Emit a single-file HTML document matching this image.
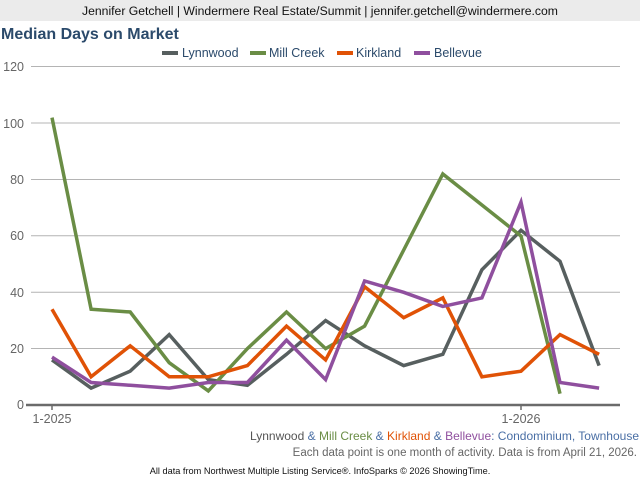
<!DOCTYPE html>
<html><head><meta charset="utf-8"><style>
body{margin:0;width:640px;height:480px;background:#fff;font-family:"Liberation Sans",sans-serif;overflow:hidden}
</style></head><body>
<svg width="640" height="480" xmlns="http://www.w3.org/2000/svg" font-family="Liberation Sans, sans-serif">
<rect x="0" y="0" width="640" height="21" fill="#ebebeb"/>
<text x="320" y="15" font-size="12.2" text-anchor="middle" fill="#111">Jennifer Getchell | Windermere Real Estate/Summit | jennifer.getchell@windermere.com</text>
<text x="1" y="39" font-size="16" font-weight="bold" fill="#2b4a6b">Median Days on Market</text>
<g font-size="12.5" fill="#2b4a6b">
<rect x="162" y="51" width="16" height="4" fill="#575f5f"/><text x="182" y="57">Lynnwood</text>
<rect x="250" y="51" width="16" height="4" fill="#6a8d45"/><text x="269" y="57">Mill Creek</text>
<rect x="337" y="51" width="16" height="4" fill="#e05206"/><text x="356" y="57">Kirkland</text>
<rect x="414" y="51" width="16" height="4" fill="#8f4f9e"/><text x="434" y="57">Bellevue</text>
</g>
<g stroke="#b4b4b4" stroke-width="1">
<line x1="31" x2="620" y1="66.5" y2="66.5"/><line x1="31" x2="620" y1="123" y2="123"/><line x1="31" x2="620" y1="179.5" y2="179.5"/><line x1="31" x2="620" y1="235.8" y2="235.8"/><line x1="31" x2="620" y1="292.2" y2="292.2"/><line x1="31" x2="620" y1="348.5" y2="348.5"/>
</g>
<g font-size="12.5" fill="#666" text-anchor="end">
<text x="24" y="71">120</text><text x="24" y="128">100</text><text x="24" y="184">80</text><text x="24" y="240">60</text><text x="24" y="297">40</text><text x="24" y="353">20</text><text x="24" y="409">0</text>
</g>
<line x1="26" x2="620" y1="405" y2="405" stroke="#6b6b6b" stroke-width="2.5"/>
<line x1="52" x2="52" y1="405" y2="410" stroke="#6b6b6b" stroke-width="1.5"/>
<line x1="521" x2="521" y1="405" y2="410" stroke="#6b6b6b" stroke-width="1.5"/>
<text x="52" y="423" font-size="12.5" fill="#666" text-anchor="middle">1-2025</text>
<text x="521" y="423" font-size="12.5" fill="#666" text-anchor="middle">1-2026</text>
<g fill="none" stroke-width="3.5" stroke-linejoin="miter">
<polyline id="lyn" stroke="#575f5f" points=""/>
<polyline id="mc" stroke="#6a8d45" points=""/>
<polyline id="kir" stroke="#e05206" points=""/>
<polyline id="bel" stroke="#8f4f9e" points=""/>
</g>
<text x="639" y="440" font-size="12" text-anchor="end" fill="#555">Lynnwood <tspan fill="#4a6fa5">&amp;</tspan> <tspan fill="#6a8d45">Mill Creek</tspan> <tspan fill="#4a6fa5">&amp;</tspan> <tspan fill="#e05206">Kirkland</tspan> <tspan fill="#4a6fa5">&amp;</tspan> <tspan fill="#8f4f9e">Bellevue</tspan><tspan fill="#4a6fa5">: Condominium, Townhouse</tspan></text>
<text x="637" y="456" font-size="11.5" text-anchor="end" fill="#666">Each data point is one month of activity. Data is from April 21, 2026.</text>
<text x="320" y="474" font-size="9.2" text-anchor="middle" fill="#111">All data from Northwest Multiple Listing Service®. InfoSparks © 2026 ShowingTime.</text>
</svg>
<script>
var d={lyn:[16,6,12,25,9,7,18,30,21,14,18,48,62,51,14],
mc:[102,34,33,15,5,20,33,20,28,55,82,71,60,4],
kir:[34,10,21,10,10,14,28,16,42,31,38,10,12,25,18],
bel:[17,8,7,6,8,8,23,9,44,40,35,38,72,8,6]};
for(var k in d){document.getElementById(k).setAttribute('points',d[k].map(function(v,i){return (52+39.08*i).toFixed(1)+','+(405-v*2.8175).toFixed(1)}).join(' '));}
</script>
</body></html>
